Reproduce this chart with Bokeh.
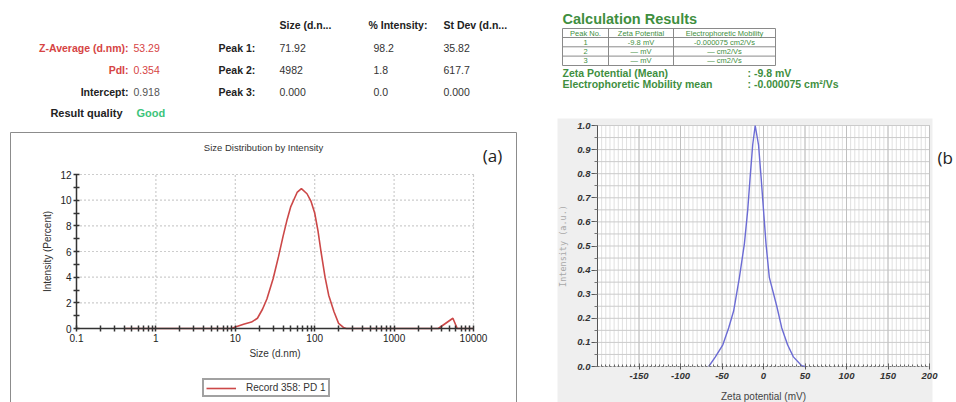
import math
from bokeh.plotting import figure
from bokeh.models import (Range1d, FixedTicker, Legend, LegendItem, LogScale, LogAxis, LinearAxis,
                          CustomJSTickFormatter)
from bokeh.core.properties import value
from bokeh.embed import file_html
from bokeh.resources import INLINE

# ---------------- data ----------------
# (a) size distribution by intensity
SIZE_NM = [0.4, 9.0, 10, 13, 16, 19, 22, 25, 30, 35, 40, 45, 50, 60, 68, 80, 90, 100, 110, 120,
           135, 150, 175, 200, 230, 250, 3600, 5500, 6240, 10000]
INTENSITY_PCT = [0, 0, 0.12, 0.35, 0.5, 0.8, 1.5, 2.3, 3.9, 5.6, 7.2, 8.5, 9.5, 10.6, 10.9, 10.5,
                 9.9, 9.0, 7.6, 6.0, 4.0, 2.6, 1.3, 0.4, 0.08, 0, 0, 0.8, 0, 0]
SIZE_TICKS = [0.1, 1, 10, 100, 1000, 10000]
SIZE_TICK_LABELS = ["0.1", "1", "10", "100", "1000", "10000"]
INT_TICKS = [0, 2, 4, 6, 8, 10, 12]
INT_MINOR = [1, 3, 5, 7, 9, 11]
SERIES_A = "Record 358: PD 1"
TITLE_A = "Size Distribution by Intensity"

# (b) zeta potential distribution
ZETA_MV = [-66, -58, -49, -42, -36, -29, -23, -19, -16, -13, -10, -6, -3, 0, 3, 7, 16, 22, 29, 36, 46, 50]
ZETA_INT = [0.0, 0.04, 0.09, 0.16, 0.23, 0.37, 0.51, 0.65, 0.79, 0.92, 1.0, 0.92, 0.79, 0.65,
            0.51, 0.37, 0.25, 0.16, 0.09, 0.04, 0.003, 0.0]
ZETA_TICKS = [-150, -100, -50, 0, 50, 100, 150, 200]
ZETA_TICK_LABELS = ["-150", "-100", "-50", "0", "50", "100", "150", "200"]
ZINT_TICKS = [0.0, 0.1, 0.2, 0.3, 0.4, 0.5, 0.6, 0.7, 0.8, 0.9, 1.0]
ZINT_TICK_LABELS = ["0.0", "0.1", "0.2", "0.3", "0.4", "0.5", "0.6", "0.7", "0.8", "0.9", "1.0"]

# summary texts
SUMMARY_LABELS = ["Z-Average (d.nm):", "PdI:", "Intercept:"]
SUMMARY_VALUES = ["53.29", "0.354", "0.918"]
QUALITY_LABEL = "Result quality"
QUALITY_VALUE = "Good"
PEAK_HEADERS = ["Size (d.n...", "% Intensity:", "St Dev (d.n..."]
PEAK_NAMES = ["Peak 1:", "Peak 2:", "Peak 3:"]
PEAK_SIZE = ["71.92", "4982", "0.000"]
PEAK_INT = ["98.2", "1.8", "0.0"]
PEAK_SD = ["35.82", "617.7", "0.000"]

CALC_TITLE = "Calculation Results"
CALC_HEADERS = ["Peak No.", "Zeta Potential", "Electrophoretic Mobility"]
CALC_PEAK = ["1", "2", "3"]
CALC_ZETA = ["-9.8 mV", "\u2014 mV", "\u2014 mV"]
CALC_MOB = ["-0.000075 cm2/Vs", "\u2014 cm2/Vs", "\u2014 cm2/Vs"]
MEAN_LABELS = ["Zeta Potential (Mean)", "Electrophoretic Mobility mean"]
MEAN_VALUES = [":  -9.8 mV", ":  -0.000075 cm\u00b2/Vs"]

# ---------------- layout (page pixels) & styles ----------------
W, H = 956, 402
A_X0, A_X1 = 76, 473      # screen x of size 0.1 and 10000
A_Y0, A_Y1 = 328, 174     # screen y of intensity 0 and 12
B_X0, B_X1 = 597, 929     # screen x of zeta -200 and 200
B_Y0, B_Y1 = 366, 125     # screen y of intensity 0 and 1

SANS = "Liberation Sans"
RED = "#d64444"
GREEN_CALC = "#3f8f3f"
GREEN_GOOD = "#3cc47a"
CURVE_A = "#cc4848"
CURVE_B = "#6b6bd4"

# ranges so that each sub-chart's data area lands where it does in the reference
a_lo, a_hi = math.log10(SIZE_TICKS[0]), math.log10(SIZE_TICKS[-1])
a_dec = (A_X1 - A_X0) / (a_hi - a_lo)
size_range = Range1d(10 ** (a_lo - A_X0 / a_dec), 10 ** (a_lo + (W - A_X0) / a_dec))
a_py = (A_Y0 - A_Y1) / (INT_TICKS[-1] - INT_TICKS[0])
int_range = Range1d(INT_TICKS[0] - (H - A_Y0) / a_py, INT_TICKS[-1] + A_Y1 / a_py)
z_lo, z_hi = -200, 200
b_px = (B_X1 - B_X0) / (z_hi - z_lo)
zeta_range = Range1d(z_lo - B_X0 / b_px, z_hi + (W - B_X1) / b_px)
b_py = (B_Y0 - B_Y1) / (ZINT_TICKS[-1] - ZINT_TICKS[0])
zint_range = Range1d(ZINT_TICKS[0] - (H - B_Y0) / b_py, ZINT_TICKS[-1] + B_Y1 / b_py)

p = figure(width=W, height=H, x_range=Range1d(0, W), y_range=Range1d(H, 0),
           extra_x_ranges={"size": size_range, "zeta": zeta_range},
           extra_y_ranges={"int": int_range, "zint": zint_range},
           extra_x_scales={"size": LogScale()},
           x_axis_location=None, y_axis_location=None, min_border=0,
           output_backend="svg", toolbar_location=None)
p.xgrid.visible = False
p.ygrid.visible = False
p.outline_line_color = None
p.background_fill_color = "white"
p.border_fill_color = "white"


def label_formatter(vals, labels):
    return CustomJSTickFormatter(args=dict(vals=vals, labels=labels),
                                 code="const i = vals.indexOf(tick); return i >= 0 ? labels[i] : '';")


def txt(xs, ys, texts, align="left", size="10.5px", style="normal", color="#222222", font=SANS):
    p.text(x=xs, y=ys, text=texts, text_align=align, text_baseline="middle",
           text_font=value(font), text_font_style=style, text_font_size=size, text_color=color)


# ---------------- top-left summary ----------------
row_y = [47, 69, 91]
txt([128] * 3, row_y, SUMMARY_LABELS, align="right", style="bold", color=[RED, RED, "#222222"])
txt([133] * 3, row_y, SUMMARY_VALUES, color=[RED, RED, "#555555"])
txt([122], [112], [QUALITY_LABEL], align="right", style="bold", size="11px")
txt([136], [112], [QUALITY_VALUE], style="bold", size="11px", color=GREEN_GOOD)
txt([279, 368, 443], [24] * 3, PEAK_HEADERS, style="bold")
txt([218] * 3, row_y, PEAK_NAMES, style="bold")
for xc, vals in zip([279, 373, 443], [PEAK_SIZE, PEAK_INT, PEAK_SD]):
    txt([xc] * 3, row_y, vals, color="#333333")

# ---------------- top-right calculation results ----------------
txt([562], [18], [CALC_TITLE], style="bold", size="14.5px", color=GREEN_CALC)
p.quad(left=[562], right=[775], top=[28], bottom=[65], fill_color=None, line_color="#8a8a8a", line_width=1)
p.segment(x0=[608, 673, 562, 562, 562], y0=[28, 28, 37, 46.3, 55.6],
          x1=[608, 673, 775, 775, 775], y1=[65, 65, 37, 46.3, 55.6], line_color="#8a8a8a", line_width=1)
col_x = [585, 640.5, 724]
txt(col_x, [32.5] * 3, CALC_HEADERS, align="center", size="7.5px", color=GREEN_CALC)
for xc, vals in zip(col_x, [CALC_PEAK, CALC_ZETA, CALC_MOB]):
    txt([xc] * 3, [41.7, 51, 60.3], vals, align="center", size="7.5px", color=GREEN_CALC)
txt([562] * 2, [72, 83.5], MEAN_LABELS, style="bold", color=GREEN_CALC)
txt([747] * 2, [72, 83.5], MEAN_VALUES, style="bold", color=GREEN_CALC)

# ---------------- (a) size distribution ----------------
p.quad(left=[10], right=[516], top=[132], bottom=[H + 10], fill_color=None,
       line_color="#8c8c8c", line_width=1)
txt([263], [147], [TITLE_A], align="center", size="9.5px", color="#333333")
txt([492], [155], ["(a)"], align="center", size="17px", font="Open Sans")

A = dict(x_range_name="size", y_range_name="int")
p.segment(x0=SIZE_TICKS[1:], y0=[INT_TICKS[0]] * 5, x1=SIZE_TICKS[1:], y1=[INT_TICKS[-1]] * 5,
          line_color="#9a9a9a", line_dash="1 3", line_width=1.2, **A)
p.segment(x0=[SIZE_TICKS[0]] * 6, y0=INT_TICKS[1:], x1=[SIZE_TICKS[-1]] * 6, y1=INT_TICKS[1:],
          line_color="#9a9a9a", line_dash="1 3", line_width=1.2, **A)
ra = p.line(SIZE_NM, INTENSITY_PCT, line_color=CURVE_A, line_width=1.6, **A)

xa = LogAxis(fixed_location=INT_TICKS[0], bounds=(SIZE_TICKS[0], SIZE_TICKS[-1]), **A)
xa.ticker = FixedTicker(ticks=SIZE_TICKS,
                        minor_ticks=[m * 10.0 ** e for e in range(-1, 4) for m in range(2, 10)])
xa.formatter = label_formatter(SIZE_TICKS, SIZE_TICK_LABELS)
ya = LinearAxis(fixed_location=SIZE_TICKS[0], bounds=(INT_TICKS[0], INT_TICKS[-1]), **A)
ya.ticker = FixedTicker(ticks=INT_TICKS, minor_ticks=INT_MINOR)
for ax in (xa, ya):
    ax.axis_line_color = "#333333"
    ax.axis_line_width = 1.5
    ax.major_tick_in = 3
    ax.major_tick_out = 3
    ax.minor_tick_in = 3
    ax.minor_tick_out = 3
    ax.major_tick_line_color = "#333333"
    ax.minor_tick_line_color = "#333333"
    ax.major_tick_line_width = 1.5
    ax.minor_tick_line_width = 1.5
    ax.major_label_text_font = SANS
    ax.major_label_text_font_size = "10px"
    ax.major_label_text_color = "#222222"
    ax.major_label_standoff = 2
    ax.axis_label_text_font = SANS
    ax.axis_label_text_font_style = "normal"
    ax.axis_label_text_font_size = "10px"
    ax.axis_label_text_color = "#333333"
xa.axis_label = "Size (d.nm)"
xa.axis_label_standoff = 3
ya.axis_label = "Intensity (Percent)"
ya.axis_label_standoff = 4
p.add_layout(xa, "below")
p.add_layout(ya, "left")

leg = Legend(items=[LegendItem(label=SERIES_A, renderers=[ra])], location=(202, 5),
             orientation="horizontal", padding=2, margin=0, spacing=0,
             glyph_width=30, glyph_height=10, label_standoff=10, label_height=10,
             label_text_font=SANS, label_text_font_size="10px", label_text_color="#333333",
             border_line_color="#444444", border_line_width=2, background_fill_color="white",
             background_fill_alpha=1)
p.add_layout(leg)

# ---------------- (b) zeta potential ----------------
p.quad(left=[557], right=[932], top=[118], bottom=[H + 5], fill_color="#efefef", line_color=None)
B = dict(x_range_name="zeta", y_range_name="zint")
zx_minor = list(range(z_lo, z_hi + 1, 5))
zx_major = list(range(z_lo, z_hi + 1, 50))
zy_minor = [round(0.05 * i, 2) for i in range(21)]
p.quad(left=[z_lo], right=[z_hi], bottom=[ZINT_TICKS[0]], top=[ZINT_TICKS[-1]], fill_color="white",
       line_color="#c4c4c4", **B)
p.segment(x0=zx_minor, y0=[0] * len(zx_minor), x1=zx_minor, y1=[1] * len(zx_minor),
          line_color="#e0e0e0", line_width=1, **B)
p.segment(x0=[z_lo] * len(zy_minor), y0=zy_minor, x1=[z_hi] * len(zy_minor), y1=zy_minor,
          line_color="#cbcbcb", line_width=1, **B)
p.segment(x0=zx_major, y0=[0] * len(zx_major), x1=zx_major, y1=[1] * len(zx_major),
          line_color="#c0c0c0", line_width=1, **B)
p.line(ZETA_MV, ZETA_INT, line_color=CURVE_B, line_width=1.4, **B)

xb = LinearAxis(fixed_location=ZINT_TICKS[0], bounds=(z_lo, z_hi), **B)
xb.ticker = FixedTicker(ticks=ZETA_TICKS, minor_ticks=zx_minor)
xb.formatter = label_formatter(ZETA_TICKS, ZETA_TICK_LABELS)
xb.axis_line_color = "#777777"
xb.axis_line_dash = "2 2"
xb.major_tick_in = 3
xb.major_tick_out = 3
xb.minor_tick_in = 2
xb.minor_tick_out = 0
xb.major_tick_line_color = "#555555"
xb.minor_tick_line_color = "#666666"
xb.major_label_standoff = 3
xb.axis_label = "Zeta potential (mV)"
xb.axis_label_standoff = 9
xb.axis_label_text_font = SANS
xb.axis_label_text_font_style = "normal"
xb.axis_label_text_font_size = "10px"
xb.axis_label_text_color = "#444444"

yb = LinearAxis(fixed_location=z_lo, bounds=(ZINT_TICKS[0], ZINT_TICKS[-1]), **B)
yb.ticker = FixedTicker(ticks=ZINT_TICKS, minor_ticks=zy_minor)
yb.formatter = label_formatter(ZINT_TICKS, ZINT_TICK_LABELS)
yb.axis_line_color = "#555555"
yb.major_tick_in = 0
yb.major_tick_out = 6
yb.minor_tick_in = 0
yb.minor_tick_out = 3
yb.major_tick_line_color = "#555555"
yb.minor_tick_line_color = "#777777"
yb.major_label_standoff = 1
yb.axis_label = "Intensity (a.u.)"
yb.axis_label_standoff = 6
yb.axis_label_text_font = "DejaVu Sans Mono"
yb.axis_label_text_font_style = "normal"
yb.axis_label_text_font_size = "8.5px"
yb.axis_label_text_color = "#a8a8a8"
for ax in (xb, yb):
    ax.major_label_text_font = SANS
    ax.major_label_text_font_style = "bold italic"
    ax.major_label_text_font_size = "9.5px"
    ax.major_label_text_color = "#333333"
p.add_layout(xb, "below")
p.add_layout(yb, "left")

txt([937], [157], ["(b"], size="17px", font="Open Sans")

open("out.html", "w").write(file_html(p, INLINE))
